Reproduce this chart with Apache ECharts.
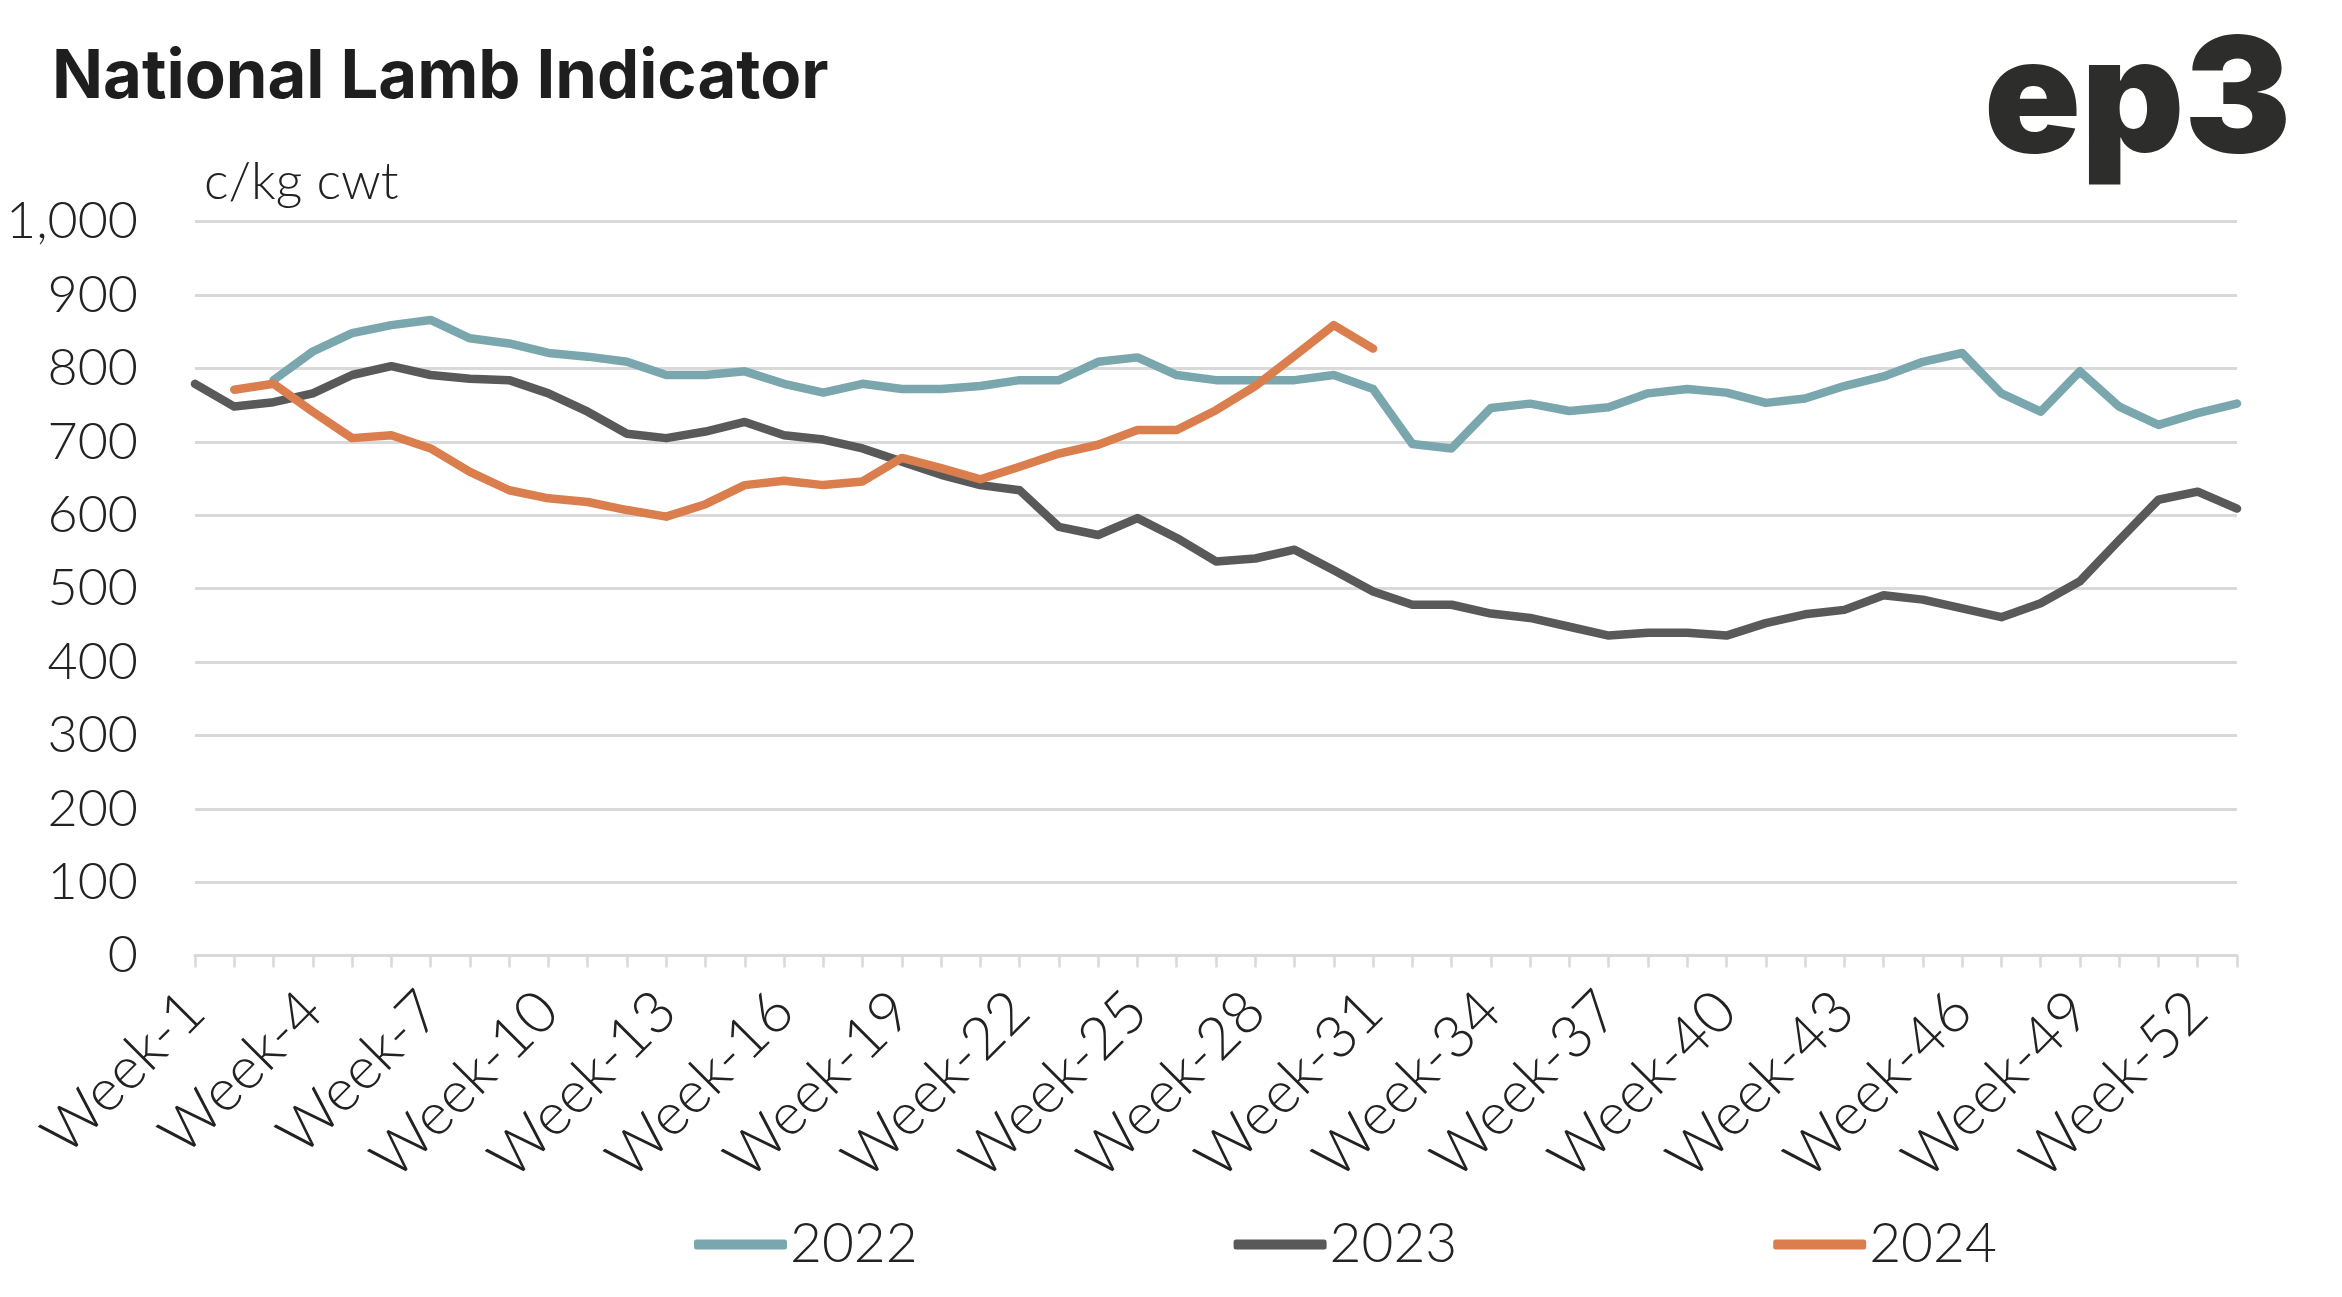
<!DOCTYPE html>
<html>
<head>
<meta charset="utf-8">
<script src="https://cdn.jsdelivr.net/npm/echarts@6/dist/echarts.min.js"></script>
<style>
html,body{margin:0;padding:0;background:#fff;}
#chart{width:2342px;height:1297px;}
</style>
</head>
<body>
<div id="chart"></div>
<script>
const weeks = ["Week-1","Week-2","Week-3","Week-4","Week-5","Week-6","Week-7","Week-8","Week-9","Week-10",
"Week-11","Week-12","Week-13","Week-14","Week-15","Week-16","Week-17","Week-18","Week-19","Week-20",
"Week-21","Week-22","Week-23","Week-24","Week-25","Week-26","Week-27","Week-28","Week-29","Week-30",
"Week-31","Week-32","Week-33","Week-34","Week-35","Week-36","Week-37","Week-38","Week-39","Week-40",
"Week-41","Week-42","Week-43","Week-44","Week-45","Week-46","Week-47","Week-48","Week-49","Week-50",
"Week-51","Week-52","Week-53"];

const s2022 = [null, null, 784, 823, 848, 859, 866, 841, 834, 821, 816, 809, 791, 791, 796, 779, 767, 779, 772, 772,
776, 784, 784, 809, 815, 791, 784, 784, 784, 791, 772, 697, 691, 746, 752, 742, 747, 766, 772, 767,
753, 759, 776, 789, 809, 821, 766, 741, 796, 748, 723, 739, 752];

const s2023 = [779, 748, 754, 766, 791, 803, 791, 786, 784, 766, 741, 711, 705, 714, 727, 709, 703, 691, 673, 655,
641, 634, 584, 573, 596, 569, 537, 541, 553, 525, 496, 478, 478, 466, 460, 448, 436, 440, 440, 436,
453, 465, 471, 491, 485, 473, 461, 480, 510, 566, 621, 632, 609];

const s2024 = [null, 771, 779, 741, 705, 709, 691, 659, 634, 623, 618, 607, 598, 615, 641, 647, 641, 646, 678, 664,
649, 666, 684, 696, 716, 716, 743, 776, 817, 859, 827, null, null, null, null, null, null, null, null, null,
null, null, null, null, null, null, null, null, null, null, null, null, null];

const seriesNames = ["2022", "2023", "2024"];
const colors = ["#7AA7AE", "#595959", "#DB7E4E"];

const chart = echarts.init(document.getElementById('chart'));
const FONT = 'Lato, "Noto Sans", sans-serif';

function mkSeries(name, data, color) {
  return {
    name: name, type: 'line', data: data, symbol: 'none', smooth: false,
    connectNulls: false,
    lineStyle: { color: color, width: 8.5, cap: 'round', join: 'round' },
    itemStyle: { color: color }
  };
}

chart.setOption({
  animation: false,
  backgroundColor: '#ffffff',
  color: colors,
  textStyle: { fontFamily: FONT },
  grid: { left: 195, right: 105, top: 221.6, bottom: 341.4, containLabel: false },
  xAxis: {
    type: 'category', data: weeks, boundaryGap: false,
    axisLine: { show: true, lineStyle: { color: '#D9D9D9', width: 3 } },
    axisTick: { show: true, interval: 0, length: 12, lineStyle: { color: '#D9D9D9', width: 2.5 } },
    axisLabel: { interval: 2, rotate: 45, fontSize: 59, color: '#222222', fontFamily: FONT, fontWeight: 300, margin: 46 },
    splitLine: { show: false }
  },
  yAxis: {
    type: 'value', min: 0, max: 1000, interval: 100,
    axisLine: { show: false }, axisTick: { show: false },
    axisLabel: {
      fontSize: 52, color: '#222222', fontFamily: FONT, fontWeight: 300, margin: 57,
      formatter: function (v) { return v.toLocaleString('en-US'); }
    },
    splitLine: { show: true, lineStyle: { color: '#D9D9D9', width: 3 } }
  },
  legend: {
    data: seriesNames, left: 689, top: 1212, itemGap: 316,
    icon: 'roundRect', itemWidth: 93, itemHeight: 10,
    textStyle: { fontSize: 55, color: '#222222', fontFamily: FONT, fontWeight: 300, padding: [0, 0, 0, -2] }
  },
  graphic: [
    { type: 'text', left: 52, top: 44, style: { text: 'National Lamb Indicator', font: 'bold 67px Inter, "Noto Sans", sans-serif', fill: '#1E1E1E' } },
    { type: 'text', left: 204, top: 156, style: { text: 'c/kg cwt', font: '300 52px Lato, "Noto Sans", sans-serif', fill: '#222222' } },
    { type: 'text', left: 1984, top: 24, style: { text: 'ep3', font: '900 160px Inter, "Noto Sans", sans-serif', fill: '#2D2D2B' } }
  ],
  series: [
    mkSeries(seriesNames[0], s2022, colors[0]),
    mkSeries(seriesNames[1], s2023, colors[1]),
    mkSeries(seriesNames[2], s2024, colors[2])
  ]
});
</script>
</body>
</html>
